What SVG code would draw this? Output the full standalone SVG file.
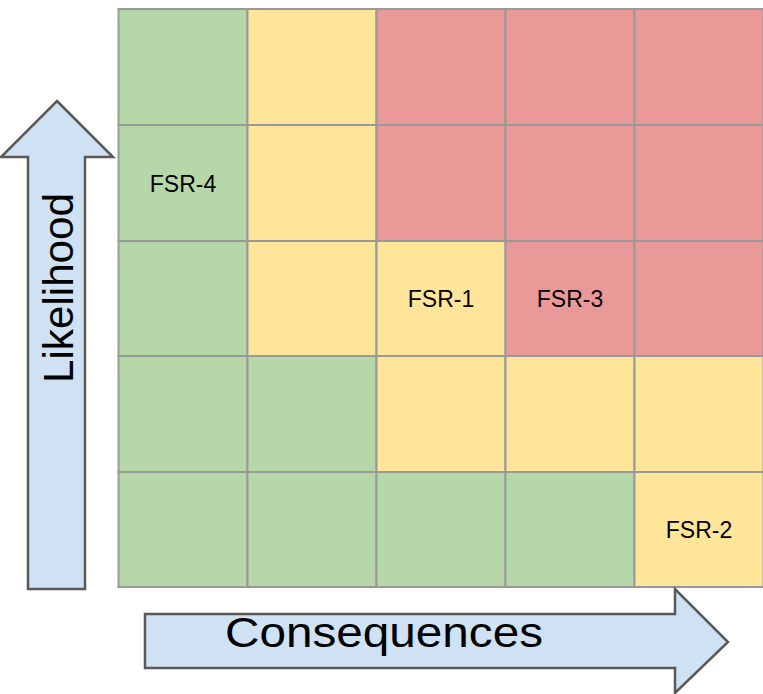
<svg xmlns="http://www.w3.org/2000/svg" width="763" height="694" viewBox="0 0 763 694">
<style>
.c{stroke:#999999;stroke-width:2}
.g{fill:#b6d7a8}.y{fill:#ffe599}.r{fill:#ea9999}
.arrow{fill:#cfe2f3;stroke:#595959;stroke-width:2.5;stroke-linejoin:miter}
.lbl{font-family:"Liberation Sans",Arial,sans-serif;font-size:23px;fill:#000;text-anchor:middle}
.big{font-family:"Liberation Sans",Arial,sans-serif;font-size:42px;fill:#000;text-anchor:middle}
</style>
<rect width="763" height="694" fill="#ffffff"/>
<g id="grid">
<rect class="c g" x="118.5" y="9" width="129" height="116"/>
<rect class="c y" x="247.5" y="9" width="129" height="116"/>
<rect class="c r" x="376.5" y="9" width="129" height="116"/>
<rect class="c r" x="505.5" y="9" width="129" height="116"/>
<rect class="c r" x="634.5" y="9" width="129" height="116"/>
<rect class="c g" x="118.5" y="125" width="129" height="116"/>
<rect class="c y" x="247.5" y="125" width="129" height="116"/>
<rect class="c r" x="376.5" y="125" width="129" height="116"/>
<rect class="c r" x="505.5" y="125" width="129" height="116"/>
<rect class="c r" x="634.5" y="125" width="129" height="116"/>
<rect class="c g" x="118.5" y="241" width="129" height="115"/>
<rect class="c y" x="247.5" y="241" width="129" height="115"/>
<rect class="c y" x="376.5" y="241" width="129" height="115"/>
<rect class="c r" x="505.5" y="241" width="129" height="115"/>
<rect class="c r" x="634.5" y="241" width="129" height="115"/>
<rect class="c g" x="118.5" y="356" width="129" height="116"/>
<rect class="c g" x="247.5" y="356" width="129" height="116"/>
<rect class="c y" x="376.5" y="356" width="129" height="116"/>
<rect class="c y" x="505.5" y="356" width="129" height="116"/>
<rect class="c y" x="634.5" y="356" width="129" height="116"/>
<rect class="c g" x="118.5" y="472" width="129" height="115"/>
<rect class="c g" x="247.5" y="472" width="129" height="115"/>
<rect class="c g" x="376.5" y="472" width="129" height="115"/>
<rect class="c g" x="505.5" y="472" width="129" height="115"/>
<rect class="c y" x="634.5" y="472" width="129" height="115"/>
</g>
<g id="labels">
<text class="lbl" x="183" y="192">FSR-4</text>
<text class="lbl" x="441" y="307">FSR-1</text>
<text class="lbl" x="570" y="307">FSR-3</text>
<text class="lbl" x="699" y="538">FSR-2</text>
</g>
<g id="likelihood">
<polygon class="arrow" points="57,101 113,157 85,157 85,589 28,589 28,157 1,157"/>
<text class="big" transform="translate(73,288) rotate(-90)" textLength="190" lengthAdjust="spacingAndGlyphs">Likelihood</text>
</g>
<g id="consequences">
<polygon class="arrow" points="145,614 675,614 675,589 728,642 675,693 675,668 145,668"/>
<text class="big" x="384" y="647" textLength="318" lengthAdjust="spacingAndGlyphs">Consequences</text>
</g>
</svg>
